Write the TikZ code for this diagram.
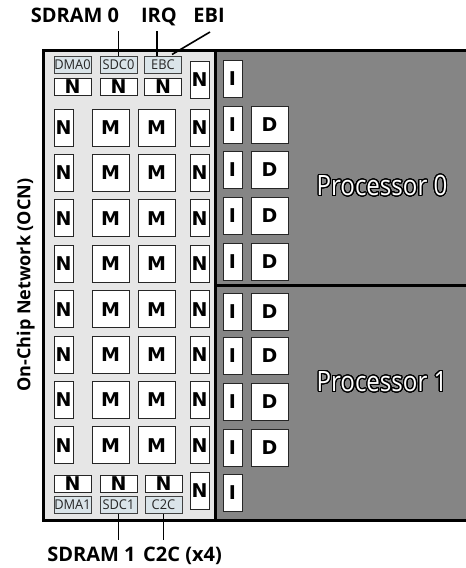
\documentclass[tikz,border=0pt]{standalone}
\usepackage{fontspec}
\usepackage{contour}
\setmainfont{Open Sans}
\newfontfamily\boxfont{DejaVu Sans}
\newfontfamily\tagfont[FakeStretch=0.95]{Open Sans}
\newfontfamily\procfont[FakeStretch=0.86]{Open Sans}
\definecolor{lightpanel}{HTML}{E6E6E6}
\definecolor{darkpanel}{HTML}{858585}
\definecolor{tagblue}{HTML}{DAE4E9}
\contourlength{1.1pt}
\contournumber{32}
\tikzset{
  nb/.style={draw=black!85, fill=white, line width=0.9pt, minimum width=19pt, minimum height=37pt,
    inner sep=0pt, font=\boxfont\bfseries\fontsize{19}{19}\selectfont},
  mb/.style={nb, minimum width=37pt},
  hb/.style={nb, minimum width=37pt, minimum height=17pt},
  tagbox/.style={draw=black!75, fill=tagblue, line width=0.9pt, minimum width=37pt, minimum height=17pt,
    inner sep=0pt, text=black!85, font=\tagfont\fontsize{13.5}{13.5}\selectfont},
  lab/.style={inner sep=0pt, font=\bfseries\fontsize{20}{20}\selectfont},
  proc/.style={inner sep=0pt, font=\procfont\fontsize{28}{28}\selectfont},
  wire/.style={line width=1.6pt},
}
\begin{document}
\begin{tikzpicture}[x=1pt,y=-1pt]
\useasboundingbox (0,0) rectangle (466,568);
\clip (0,0) rectangle (466,568);
% panels
\fill[lightpanel] (43,50) rectangle (215,520);
\fill[darkpanel] (215,50) rectangle (480,520);
\draw[line width=3pt] (215,50) -- (215,520);
\draw[line width=3pt] (215,285.5) -- (480,285.5);
\draw[line width=3pt] (43,50) rectangle (480,520);
% top row
\node[tagbox] (dma0) at (72.5,64.5) {DMA0};
\node[tagbox] (sdc0) at (118.5,64.5) {SDC0};
\node[tagbox] (ebc) at (163,64.5) {EBC};
\node[hb] (nt1) at (72.5,86.5) {N};
\node[hb] (nt2) at (118.5,86.5) {N};
\node[hb] (nt3) at (163,86.5) {N};
\node[nb] (nrt) at (199.5,80) {N};
% mesh rows
\foreach \i in {0,...,7}{
  \pgfmathsetmacro{\yy}{127.5+45.4*\i}
  \node[nb] (nl\i) at (63.5,\yy) {N};
  \node[mb] (ma\i) at (110.5,\yy) {M};
  \node[mb] (mb\i) at (156.5,\yy) {M};
  \node[nb] (nr\i) at (199.5,\yy) {N};
}
% bottom row
\node[hb] (nb1) at (72.5,483.5) {N};
\node[hb] (nb2) at (118.5,483.5) {N};
\node[hb] (nb3) at (163.5,483.5) {N};
\node[tagbox] (dma1) at (72.5,505) {DMA1};
\node[tagbox] (sdc1) at (118.5,505) {SDC1};
\node[tagbox] (c2c) at (163.5,505) {C2C};
\node[nb] (nrb) at (199.5,490.5) {N};
% processor I/D
\node[nb] (i0) at (232.5,78.5) {I};
\foreach \k/\yy in {1/125,2/169.5,3/216,4/261.5,5/311.5,6/356,7/402,8/447.5}{
  \node[nb] (i\k) at (232.5,\yy) {I};
  \node[mb] (d\k) at (269.5,\yy) {D};
}
\node[nb] (i9) at (232.5,492.5) {I};
% processor labels
\node[proc,anchor=base] (p0) at (382,195.5) {\contour{black}{\textcolor{white}{Processor 0}}};
\node[proc,anchor=base] (p1) at (382,391.5) {\contour{black}{\textcolor{white}{Processor 1}}};
% external labels
\node[lab,anchor=base] (sdram0) at (75,22) {SDRAM 0};
\node[lab,anchor=base] (irq) at (159,22) {IRQ};
\node[lab,anchor=base] (ebi) at (209,22) {EBI};
\node[lab,anchor=base] (sdram1) at (91.5,561) {SDRAM 1};
\node[lab,anchor=base] (c2cx) at (182.5,561) {C2C (x4)};
\node[lab,anchor=base,rotate=90,font=\bfseries\fontsize{18}{18}\selectfont] (ocn) at (30.5,285) {On-Chip Network (OCN)};
% wires
\coordinate (w1) at (118.5,31);
\coordinate (w2) at (157,31);
\coordinate (w3) at (210,32);
\coordinate (w3e) at (172,54.5);
\coordinate (w4) at (118.5,540);
\coordinate (w5) at (163.5,540);
\draw[wire] (w1) -- (sdc0.north);
\draw[wire] (w2) -- (w2 |- ebc.north);
\draw[wire] (w3) -- (w3e);
\draw[wire] (sdc1.south) -- (w4);
\draw[wire] (c2c.south) -- (w5);
\end{tikzpicture}
\end{document}
